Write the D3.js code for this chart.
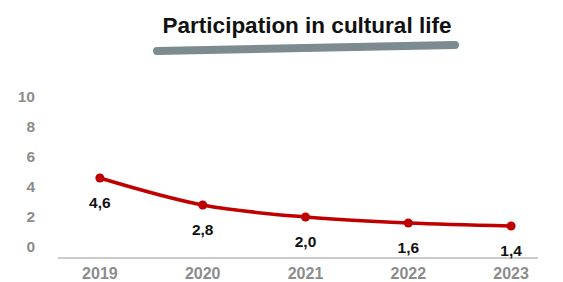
<!DOCTYPE html>
<html>
<head>
<meta charset="UTF-8">
<title>Participation in cultural life</title>
<style>
  body { margin: 0; background: #fff; }
  text { font-family: "Liberation Sans", Arial, sans-serif; }
</style>
</head>
<body>
<svg id="chart" width="563" height="282"></svg>
<script src="https://d3js.org/d3.v7.min.js"></script>
<script>
const years = ["2019", "2020", "2021", "2022", "2023"];
const values = [4.6, 2.8, 2.0, 1.6, 1.4];
const yTicks = [0, 2, 4, 6, 8, 10];

const svg = d3.select("#chart");

// title + grey underline stroke
svg.append("text")
  .attr("x", 307).attr("y", 33)
  .attr("text-anchor", "middle")
  .attr("font-size", 22.5).attr("font-weight", "bold")
  .attr("fill", "#111")
  .text("Participation in cultural life");

svg.append("line")
  .attr("x1", 157).attr("y1", 51)
  .attr("x2", 455).attr("y2", 45)
  .attr("stroke", "#7b8b8f").attr("stroke-width", 8)
  .attr("stroke-linecap", "round");

const x = d3.scaleBand().domain(years).range([48.5, 562.5]);
const y = d3.scaleLinear().domain([0, 10]).range([247, 97]);
const cx = d => x(d) + x.bandwidth() / 2;

// y tick labels (no axis line)
svg.append("g").selectAll("text").data(yTicks).join("text")
  .attr("x", 35).attr("y", d => y(d)).attr("dy", "0.35em")
  .attr("text-anchor", "end")
  .attr("font-size", 15.5).attr("font-weight", "bold").attr("fill", "#8c8c8c")
  .text(d => d);

// x baseline
svg.append("line")
  .attr("x1", 58).attr("x2", 538).attr("y1", 258).attr("y2", 258)
  .attr("stroke", "#999").attr("stroke-width", 1.2);

svg.append("g").selectAll("text").data(years).join("text")
  .attr("x", d => cx(d)).attr("y", 273.5).attr("dy", "0.35em")
  .attr("text-anchor", "middle")
  .attr("font-size", 16).attr("font-weight", "bold").attr("fill", "#8c8c8c")
  .text(d => d);

const pts = years.map((d, i) => ({ year: d, v: values[i] }));

svg.append("path")
  .datum(pts)
  .attr("fill", "none").attr("stroke", "#c00000").attr("stroke-width", 3.5)
  .attr("stroke-linejoin", "round")
  .attr("d", d3.line().x(d => cx(d.year)).y(d => y(d.v)).curve(d3.curveMonotoneX));

svg.append("g").selectAll("circle").data(pts).join("circle")
  .attr("cx", d => cx(d.year)).attr("cy", d => y(d.v)).attr("r", 4.5)
  .attr("fill", "#c00000");

svg.append("g").selectAll("text").data(pts).join("text")
  .attr("x", d => cx(d.year)).attr("y", d => y(d.v) + 30)
  .attr("text-anchor", "middle")
  .attr("font-size", 15.5).attr("font-weight", "bold").attr("fill", "#111")
  .text(d => d.v.toFixed(1).replace(".", ","));
</script>
</body>
</html>
